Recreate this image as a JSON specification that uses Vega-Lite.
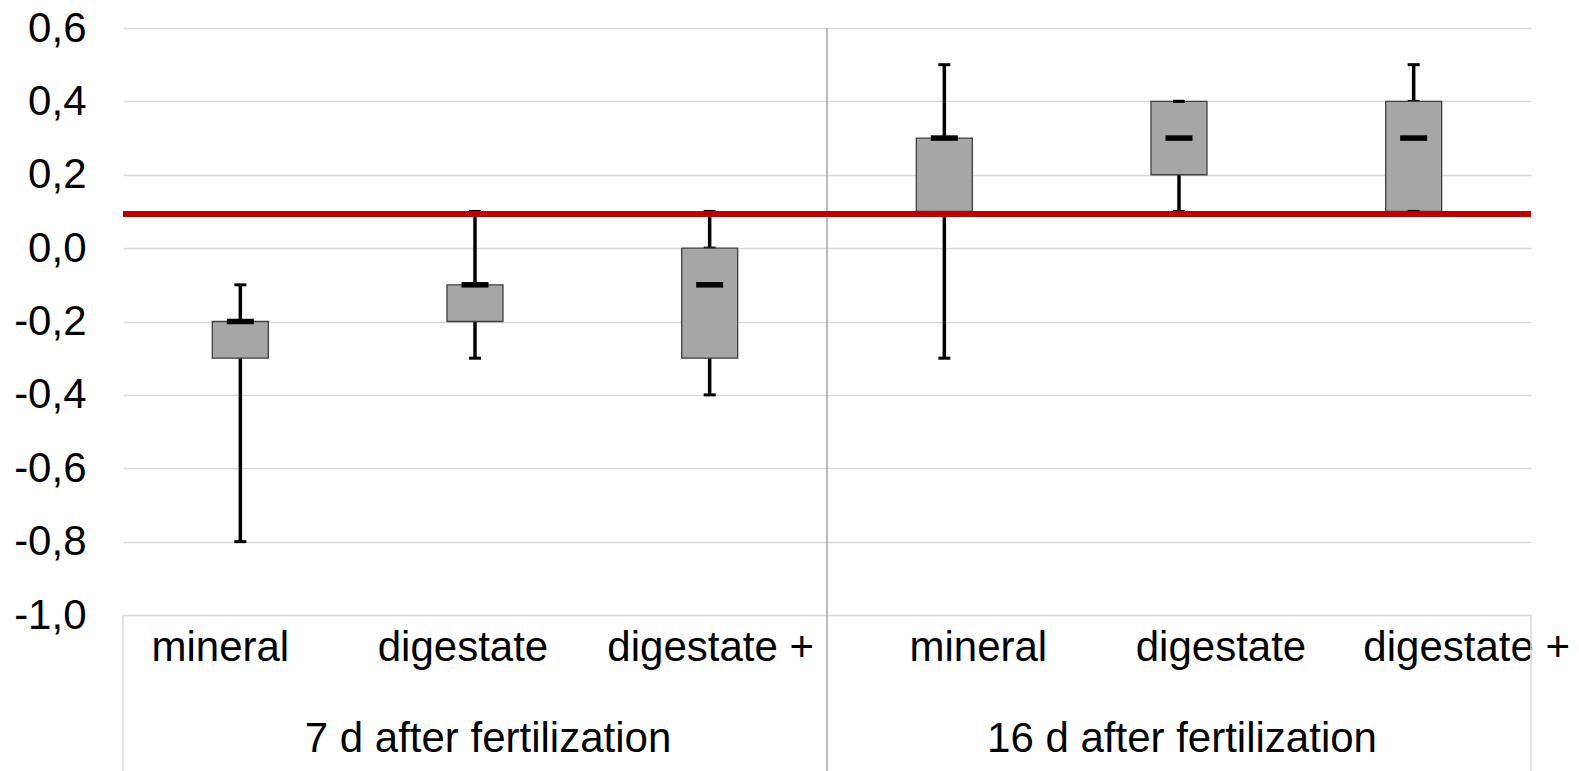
{
  "$schema": "https://vega.github.io/schema/vega-lite/v6.json",
  "width": 1408,
  "height": 587,
  "autosize": {"type": "none"},
  "padding": {"left": 123, "top": 28, "right": 48, "bottom": 156},
  "config": {"view": {"stroke": null}, "font": "Liberation Sans", "tick": {"opacity": 1}},
  "data": {
    "values": [
      {"key": "7 d|mineral", "min": -0.8, "q1": -0.3, "median": -0.2, "q3": -0.2, "max": -0.1},
      {"key": "7 d|digestate", "min": -0.3, "q1": -0.2, "median": -0.1, "q3": -0.1, "max": 0.1},
      {"key": "7 d|digestate +", "min": -0.4, "q1": -0.3, "median": -0.1, "q3": 0.0, "max": 0.1},
      {"key": "16 d|mineral", "min": -0.3, "q1": 0.1, "median": 0.3, "q3": 0.3, "max": 0.5},
      {"key": "16 d|digestate", "min": 0.1, "q1": 0.2, "median": 0.3, "q3": 0.4, "max": 0.4},
      {"key": "16 d|digestate +", "min": 0.1, "q1": 0.1, "median": 0.3, "q3": 0.4, "max": 0.5}
    ]
  },
  "layer": [
    {
      "mark": {"type": "bar", "size": 56, "fill": "#a6a6a6", "stroke": "#404040", "strokeWidth": 1.3, "opacity": 0},
      "encoding": {
        "x": {
          "field": "key", "type": "nominal",
          "scale": {
            "type": "band", "paddingInner": 0, "paddingOuter": 0,
            "domain": ["7 d|mineral", "7 d|digestate", "7 d|digestate +", "16 d|mineral", "16 d|digestate", "16 d|digestate +"]
          },
          "axis": {
            "orient": "bottom", "title": null, "domain": false, "ticks": false, "tickSize": 0, "grid": false,
            "labelExpr": "split(datum.value, '|')[1]",
            "labelFontSize": 42, "labelColor": "#000000", "labelPadding": 45, "labelBaseline": "alphabetic",
            "labelAngle": 0, "labelOverlap": false, "labelBound": false, "labelFlush": false, "labelLimit": 800,
            "labelOffset": {
              "condition": [
                {"test": "datum.value === '7 d|mineral'", "value": -20},
                {"test": "datum.value === '7 d|digestate'", "value": -12},
                {"test": "datum.value === '7 d|digestate +'", "value": 1},
                {"test": "datum.value === '16 d|mineral'", "value": 34},
                {"test": "datum.value === '16 d|digestate'", "value": 42}
              ],
              "value": 53
            }
          }
        },
        "y": {
          "field": "q1", "type": "quantitative",
          "scale": {"domain": [-1.0, 0.6], "nice": false, "zero": false},
          "axis": {
            "title": null, "domain": false, "ticks": false, "grid": true,
            "gridColor": "#d9d9d9", "gridWidth": 1.3,
            "values": [-1.0, -0.8, -0.6, -0.4, -0.2, 0.0, 0.2, 0.4, 0.6],
            "labelExpr": "replace(replace(format(datum.value, '.1f'), '.', ','), '\u2212', '-')",
            "labelFontSize": 42, "labelColor": "#000000", "labelPadding": 37
          }
        },
        "y2": {"field": "q3"}
      }
    },
    {
      "data": {"values": [{"key": "16 d|mineral"}]},
      "mark": {"type": "rule", "color": "#a6a6a6", "strokeWidth": 1.5, "clip": false},
      "encoding": {
        "x": {"field": "key", "type": "nominal", "bandPosition": 0},
        "y": {"datum": 0.6, "type": "quantitative"},
        "y2": {"datum": -1.43}
      }
    },
    {
      "data": {"values": [{"key": "7 d|mineral"}]},
      "mark": {"type": "rule", "color": "#d9d9d9", "strokeWidth": 1.5, "clip": false},
      "encoding": {
        "x": {"field": "key", "type": "nominal", "bandPosition": 0},
        "y": {"datum": -1.0, "type": "quantitative"},
        "y2": {"datum": -1.43}
      }
    },
    {
      "data": {"values": [{"key": "16 d|digestate +"}]},
      "mark": {"type": "rule", "color": "#d9d9d9", "strokeWidth": 1.5, "clip": false},
      "encoding": {
        "x": {"field": "key", "type": "nominal", "bandPosition": 1},
        "y": {"datum": -1.0, "type": "quantitative"},
        "y2": {"datum": -1.43}
      }
    },
    {
      "data": {"values": [{"key": "7 d|digestate", "group": "7 d after fertilization"}, {"key": "16 d|digestate", "group": "16 d after fertilization"}]},
      "mark": {
        "type": "text", "fontSize": 42, "color": "#000000", "baseline": "alphabetic", "align": "center", "clip": false,
        "dx": {"expr": "datum.key === '7 d|digestate' ? 13 : 3"}
      },
      "encoding": {
        "x": {"field": "key", "type": "nominal"},
        "y": {"datum": -1.373, "type": "quantitative"},
        "text": {"field": "group"}
      }
    },
    {
      "mark": {"type": "rule", "color": "#000000", "strokeWidth": 3.5},
      "encoding": {
        "x": {"field": "key", "type": "nominal"},
        "y": {"field": "min", "type": "quantitative"},
        "y2": {"field": "max"}
      }
    },
    {
      "mark": {"type": "tick", "color": "#000000", "size": 12, "thickness": 3, "orient": "horizontal", "opacity": 1},
      "encoding": {
        "x": {"field": "key", "type": "nominal"},
        "y": {"field": "q3", "type": "quantitative"}
      }
    },
    {
      "mark": {"type": "bar", "size": 56, "fill": "#a6a6a6", "stroke": "#404040", "strokeWidth": 1.3},
      "encoding": {
        "x": {"field": "key", "type": "nominal"},
        "y": {"field": "q1", "type": "quantitative"},
        "y2": {"field": "q3"}
      }
    },
    {
      "mark": {"type": "tick", "color": "#000000", "size": 12, "thickness": 3, "orient": "horizontal", "opacity": 1},
      "encoding": {
        "x": {"field": "key", "type": "nominal"},
        "y": {"field": "min", "type": "quantitative"}
      }
    },
    {
      "mark": {"type": "tick", "color": "#000000", "size": 12, "thickness": 3, "orient": "horizontal", "opacity": 1},
      "encoding": {
        "x": {"field": "key", "type": "nominal"},
        "y": {"field": "max", "type": "quantitative"}
      }
    },
    {
      "mark": {"type": "tick", "color": "#000000", "size": 27, "thickness": 5.5, "orient": "horizontal", "opacity": 1},
      "encoding": {
        "x": {"field": "key", "type": "nominal"},
        "y": {"field": "median", "type": "quantitative"}
      }
    },
    {
      "mark": {"type": "rule", "color": "#c00000", "strokeWidth": 5.5},
      "encoding": {
        "y": {"datum": 0.093, "type": "quantitative"}
      }
    }
  ]
}
